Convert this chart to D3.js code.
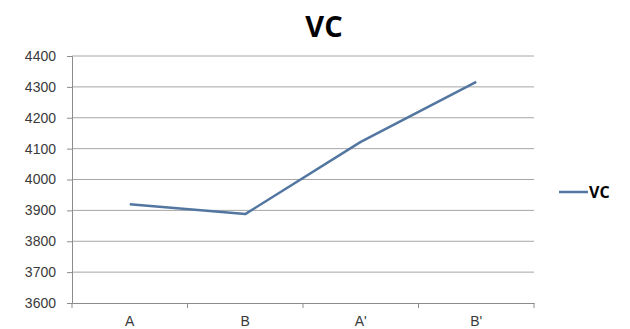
<!DOCTYPE html>
<html>
<head>
<meta charset="utf-8">
<script src="https://cdn.jsdelivr.net/npm/d3@7"></script>
<style>
  html, body { margin: 0; padding: 0; background: #fff; }
  svg { display: block; }
</style>
</head>
<body>
<script>
// VC measurements across the four conditions
const categories = ["A", "B", "A'", "B'"];
const vcValues = [3920, 3888, 4122, 4316];
const yTicks = [3600, 3700, 3800, 3900, 4000, 4100, 4200, 4300, 4400];
const seriesName = "VC";

const W = 630, H = 329;
const margin = { left: 72, right: 96, top: 56, bottom: 26 };

const svg = d3.select("body").append("svg")
  .attr("width", W).attr("height", H)
  .style("font-family", "'Open Sans', 'Liberation Sans', sans-serif");

const x = d3.scaleBand()
  .domain(categories)
  .range([margin.left, W - margin.right]);

const y = d3.scaleLinear()
  .domain([3600, 4400])
  .range([H - margin.bottom, margin.top]);

// horizontal gridlines
svg.append("g")
  .selectAll("line")
  .data(yTicks.slice(1))
  .join("line")
  .attr("x1", margin.left).attr("x2", W - margin.right)
  .attr("y1", d => y(d)).attr("y2", d => y(d))
  .attr("stroke", "#a6a6a6").attr("stroke-width", 1);

// y axis
const yAxis = svg.append("g")
  .attr("transform", `translate(${margin.left},0)`)
  .call(d3.axisLeft(y).tickValues(yTicks).tickSize(5).tickPadding(11).tickFormat(d3.format("d")));
yAxis.select(".domain").attr("stroke", "#8c8c8c");
yAxis.selectAll(".tick line").attr("stroke", "#8c8c8c");
yAxis.selectAll(".tick text")
  .attr("fill", "#3a3a3a").style("font-size", "14px");

// x axis
const xAxis = svg.append("g")
  .attr("transform", `translate(0,${H - margin.bottom})`)
  .call(d3.axisBottom(x).tickSize(0).tickPadding(13));
xAxis.select(".domain").attr("stroke", "#8c8c8c");
xAxis.selectAll(".tick text")
  .attr("fill", "#3a3a3a").style("font-size", "14px");
// category boundary tick marks
xAxis.append("g")
  .selectAll("line")
  .data(categories.map(c => x(c)).concat([x(categories[categories.length - 1]) + x.bandwidth()]))
  .join("line")
  .attr("x1", d => d).attr("x2", d => d)
  .attr("y1", 0).attr("y2", 5)
  .attr("stroke", "#8c8c8c");

// series line
const line = d3.line()
  .x((d, i) => x(categories[i]) + x.bandwidth() / 2)
  .y(d => y(d));

svg.append("path")
  .datum(vcValues)
  .attr("d", line)
  .attr("fill", "none")
  .attr("stroke", "#5276a0")
  .attr("stroke-width", 2.5)
  .attr("stroke-linejoin", "round");

// title
svg.append("text")
  .attr("x", 324).attr("y", 37)
  .attr("text-anchor", "middle")
  .style("font-size", "29px").style("font-weight", "bold")
  .attr("fill", "#000")
  .text(seriesName);

// legend
const legend = svg.append("g").attr("transform", "translate(559,192)");
legend.append("line")
  .attr("x1", 0).attr("x2", 29).attr("y1", 0).attr("y2", 0)
  .attr("stroke", "#5276a0").attr("stroke-width", 2.5);
legend.append("text")
  .attr("x", 30).attr("y", 5.5)
  .style("font-size", "16px").style("font-weight", "bold")
  .attr("fill", "#000")
  .text(seriesName);
</script>
</body>
</html>
